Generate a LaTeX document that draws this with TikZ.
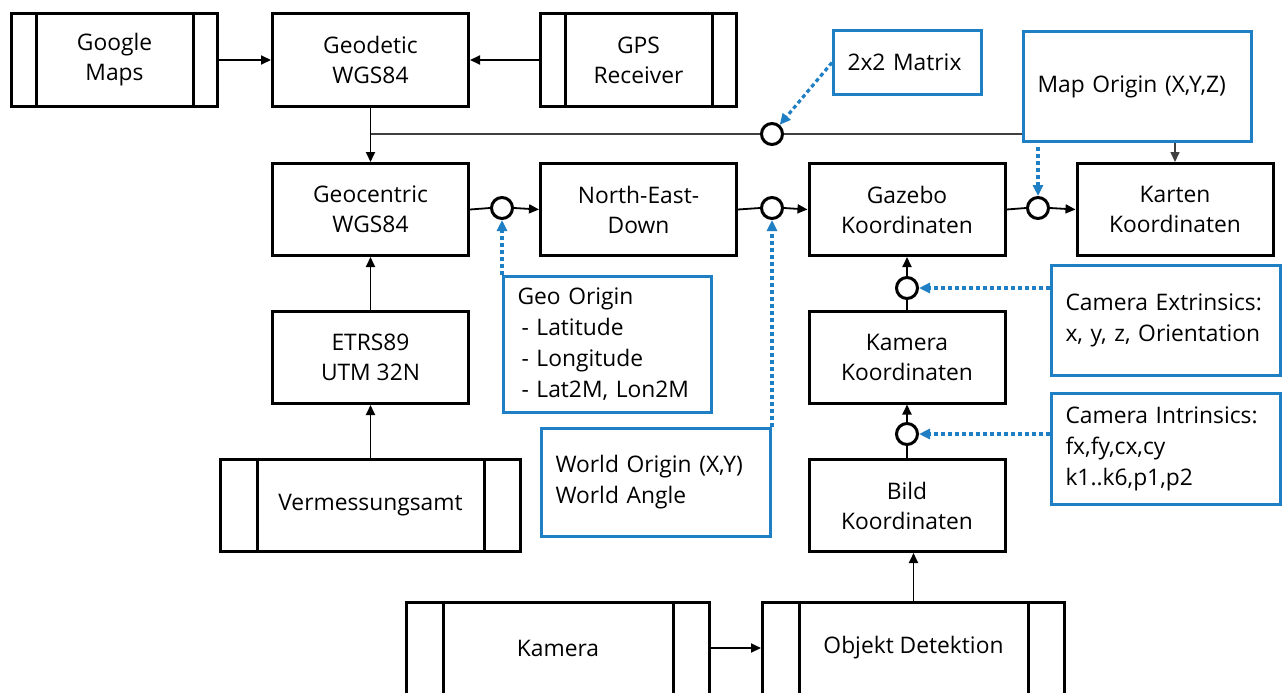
\documentclass[tikz,border=0pt]{standalone}
\usepackage{fontspec}
\setmainfont{Open Sans}
\usetikzlibrary{arrows.meta,positioning,calc}
\definecolor{paramblue}{RGB}{31,127,196}

\begin{document}
\begin{tikzpicture}[
    x=1pt, y=-1pt,
    font=\fontsize{22.8}{30}\selectfont,
    frame/.style={draw, line width=3pt, minimum width=196pt, minimum height=92pt, align=center, inner sep=0pt},
    param/.style={draw=paramblue, line width=3pt, fill=white, align=left, inner xsep=14pt, inner ysep=0pt, font=\fontsize{22.8}{31}\selectfont},
    junction/.style={draw, circle, line width=3pt, fill=white, minimum size=21pt, inner sep=0pt},
    arrow/.style={-{Triangle[length=10pt,width=9pt]}, line width=1.8pt},
    link/.style={line width=1.8pt},
    bus/.style={line width=1.5pt, black!75},
    hint/.style={-{Triangle[length=11pt,width=10pt]}, paramblue, line width=3.2pt, dash pattern=on 4pt off 3pt}
]
\useasboundingbox (0,0) rectangle (1285,693);
\fill[white] (0,0) rectangle (1285,693);

% --- ZEILE 1 : QUELLEN ---
\node[frame, minimum width=206pt] (gmaps) at (114.5,60) {Google\\Maps};
\node[frame] (geodetic) at (370.5,60) {Geodetic\\WGS84};
\node[frame] (gps) at (638.5,60) {GPS\\Receiver};

% --- ZEILE 2 : KOORDINATENSYSTEME ---
\node[frame] (geocentric) at (370.5,209.5) {Geocentric\\WGS84};
\node[frame] (ned) at (638.5,209.5) {North-East-\\Down};
\node[frame] (gazebo) at (907,209.5) {Gazebo\\Koordinaten};
\node[frame] (karten) at (1175,209.5) {Karten\\Koordinaten};

% --- LINKE UND RECHTE SPALTE ---
\node[frame] (etrs) at (370.5,357.5) {ETRS89\\UTM 32N};
\node[frame, minimum width=300pt] (verm) at (370.5,505) {Vermessungsamt};
\node[frame] (kamkoord) at (907,357) {Kamera\\Koordinaten};
\node[frame] (bild) at (907,505.5) {Bild\\Koordinaten};
\node[frame, minimum width=303pt] (kamera) at (558,648) {Kamera};
\node[frame, minimum width=302pt] (objekt) at (913.5,648) {Objekt Detektion};

% seitliche Balken der Prozess-Boxen
\foreach \n/\d in {gmaps/26, gps/26, verm/38, kamera/38, objekt/38} {
        \draw[line width=3pt] ([xshift=\d pt]\n.north west) -- ([xshift=\d pt]\n.south west);
        \draw[line width=3pt] ([xshift=-\d pt]\n.north east) -- ([xshift=-\d pt]\n.south east);
    }

% --- VERKNUEPFUNGSPUNKTE ---
\node[junction] (j1) at (502,208) {};
\node[junction] (j2) at (772,208) {};
\node[junction] (j3) at (1038,208) {};
\node[junction] (j4) at (907,288) {};
\node[junction] (j5) at (907,434) {};

% --- SCHWARZE VERBINDER ---
\draw[arrow] (gmaps) -- (geodetic);
\draw[arrow] (gps) -- (geodetic);
\draw[arrow] (geodetic) -- (geocentric);
\draw[arrow] (etrs) -- (geocentric);
\draw[arrow] (verm) -- (etrs);
\draw[arrow] (kamera) -- (objekt);
\draw[arrow] (objekt.north) -- (objekt.north |- bild.south);
\foreach \a/\j/\b in {geocentric/j1/ned, ned/j2/gazebo, gazebo/j3/karten} {
        \draw[link] (\a.east) -- (\j.west);
        \draw[arrow] (\j.east) -- (\b.west);
    }
\foreach \a/\j/\b in {bild/j5/kamkoord, kamkoord/j4/gazebo} {
        \draw[link] (\a.north) -- (\j.south);
        \draw[arrow] (\j.north) -- (\b.south);
    }

% Leitung zur Karte (unter der Map-Origin-Box)
\node[junction] (jm) at (772,134) {};
\draw[bus] (geodetic.south |- jm) -- (jm.west);
\draw[bus, -{Triangle[length=10pt,width=9pt]}] (jm.east) -| (karten.north);

% --- PARAMETER (BLAU) ---
\node[param, text width=120pt, minimum height=64pt] (matrix) at (907.5,62.5) {2x2 Matrix};
\node[param, text width=200pt, minimum height=110pt] (maporigin) at (1137.5,86.5) {Map Origin (X,Y,Z)};
\node[param, text width=180pt, minimum height=136pt] (geoorigin) at (607.5,344.5)
    {Geo Origin\\\hspace*{4pt}- Latitude\\\hspace*{4pt}- Longitude\\\hspace*{4pt}- Lat2M, Lon2M};
\node[param, text width=201pt, minimum height=108pt] (worldorigin) at (656,482.5) {World Origin (X,Y)\\World Angle};
\node[param, text width=201pt, minimum height=110pt] (extrinsics) at (1166,320.5) {Camera Extrinsics:\\x, y, z, Orientation};
\node[param, text width=201pt, minimum height=111pt] (intrinsics) at (1166,449) {Camera Intrinsics:\\fx,fy,cx,cy\\k1..k6,p1,p2};

\draw[hint] (matrix.west) -- (jm);
\draw[hint] (geoorigin.north west) -- (j1.south);
\draw[hint] (worldorigin.north east) -- (j2.south);
\draw[hint, shorten <=4pt] (maporigin.south -| j3) -- (j3.north);
\draw[hint] (j4 -| extrinsics.west) -- (j4.east);
\draw[hint] (j5 -| intrinsics.west) -- (j5.east);

\end{tikzpicture}
\end{document}
